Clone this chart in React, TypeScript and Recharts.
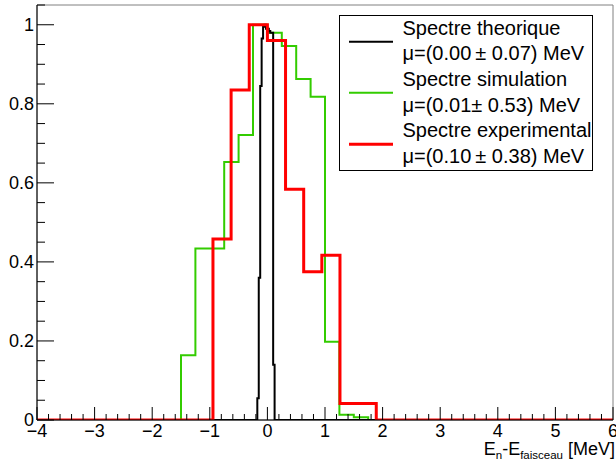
import React from "react";
import { ComposedChart, Line, XAxis, YAxis, ReferenceArea, Legend } from "recharts";

// ---- Data (bin edges and bin contents) ----
const theoEdges = [-0.175, -0.15, -0.125, -0.1, -0.075, -0.05, -0.025, 0, 0.025, 0.05, 0.075, 0.1, 0.125];
const theoValues = [0.055, 0.36, 0.845, 0.965, 0.995, 1.0, 0.99, 0.99, 0.984, 0.98, 0.98, 0.14];

const simEdges = [-1.5, -1.25, -1.0, -0.75, -0.5, -0.25, 0, 0.25, 0.5, 0.75, 1.0, 1.25, 1.5, 1.75];
const simValues = [0.164, 0.434, 0.434, 0.653, 0.721, 1.0, 0.98, 0.946, 0.863, 0.818, 0.198, 0.013, 0.007];

const expEdges = [-0.945, -0.63, -0.315, 0, 0.315, 0.63, 0.945, 1.26, 1.575, 1.89];
const expValues = [0.458, 0.835, 1.0, 0.96, 0.584, 0.375, 0.417, 0.042, 0.042];

const xMajorTicks = [-4, -3, -2, -1, 0, 1, 2, 3, 4, 5, 6];
const xTickLabels = ["\u22124", "\u22123", "\u22122", "\u22121", "0", "1", "2", "3", "4", "5", "6"];
const yMajorTicks = [0, 0.2, 0.4, 0.6, 0.8, 1];
const yTickLabels = ["0", "0.2", "0.4", "0.6", "0.8", "1"];

const legendNames = ["Spectre theorique", "Spectre simulation", "Spectre experimental"];
const legendMu = ["\u03bc=(0.00\u2009\u00b1 0.07) MeV", "\u03bc=(0.01\u00b1 0.53) MeV", "\u03bc=(0.10\u2009\u00b1 0.38) MeV"];
const legendColors = ["#000000", "#33cc00", "#ff0000"];
const legendWidths = [2, 2, 3];

const X_MIN = -4;
const X_MAX = 6;
const Y_MAX = 1.05;

// minor tick positions
const xTicks: number[] = [];
for (let i = 0; i <= 50; i++) xTicks.push(Math.round((X_MIN + i * 0.2) * 10) / 10);
const yTicks: number[] = [];
for (let i = 0; i <= 21; i++) yTicks.push(Math.round(i * 0.05 * 100) / 100);

function toSteps(edges: number[], values: number[]) {
  const pts: { x: number; y: number }[] = [{ x: X_MIN, y: 0 }];
  values.forEach((v, i) => pts.push({ x: edges[i], y: v }));
  pts.push({ x: edges[edges.length - 1], y: 0 });
  pts.push({ x: X_MAX, y: 0 });
  return pts;
}

const theoData = toSteps(theoEdges, theoValues);
const simData = toSteps(simEdges, simValues);
const expData = toSteps(expEdges, expValues);

const FONT = "'Liberation Sans', Arial, Helvetica, sans-serif";

const YTick = (props: any) => {
  const { x, y, payload } = props;
  const v = payload.value;
  const idx = yMajorTicks.findIndex((m) => Math.abs(m - v) < 1e-6);
  const ax = x + 3;
  const len = idx >= 0 ? 17 : 8;
  return (
    <g>
      <line x1={ax} x2={ax + len} y1={y} y2={y} stroke="#000" strokeWidth={1} />
      {idx >= 0 && (
        <text x={x} y={y} dy="0.36em" textAnchor="end" fontSize={18} fontFamily={FONT} fill="#000">
          {yTickLabels[idx]}
        </text>
      )}
    </g>
  );
};

const XTick = (props: any) => {
  const { x, y, payload } = props;
  const v = payload.value;
  const idx = xMajorTicks.findIndex((m) => Math.abs(m - v) < 1e-6);
  const len = idx >= 0 ? 13 : 6;
  return (
    <g>
      <line x1={x} x2={x} y1={y} y2={y - len} stroke="#000" strokeWidth={1} />
      {idx >= 0 && (
        <text x={x} y={y + 16.5} textAnchor="middle" fontSize={18} fontFamily={FONT} fill="#000">
          {xTickLabels[idx]}
        </text>
      )}
    </g>
  );
};

const AxisTitle = (props: any) => {
  const vb = props.viewBox || { x: 37, y: 420, width: 576, height: 41 };
  return (
    <text x={vb.x + vb.width + 2} y={vb.y + 35} textAnchor="end" fontSize={18} fontFamily={FONT} fill="#000">
      <tspan>E</tspan>
      <tspan fontSize={11.5} dy={4}>n</tspan>
      <tspan dy={-4}>-E</tspan>
      <tspan fontSize={11.5} dy={4}>faisceau</tspan>
      <tspan dy={-4}> [MeV]</tspan>
    </text>
  );
};

const LegendBox = () => {
  const lineY = [26.7, 77.7, 129.3];
  const baseY = [19.5, 45, 71, 96.5, 122, 147.5];
  return (
    <svg width={254} height={157} style={{ display: "block" }}>
      <rect x={0.5} y={0.5} width={253} height={155} fill="#fff" stroke="#000" strokeWidth={1} />
      {legendNames.map((n, i) => (
        <g key={n}>
          <line x1={10} x2={54} y1={lineY[i]} y2={lineY[i]} stroke={legendColors[i]} strokeWidth={legendWidths[i]} />
          <text x={63.5} y={baseY[2 * i]} fontSize={20} fontFamily={FONT} fill="#000">
            {n}
          </text>
          <text x={63.5} y={baseY[2 * i + 1]} fontSize={20} fontFamily={FONT} fill="#000">
            {legendMu[i]}
          </text>
        </g>
      ))}
    </svg>
  );
};

export default function App() {
  return (
    <div style={{ position: "absolute", left: 0, top: 0, width: 616, height: 461, background: "#fff", fontFamily: FONT }}>
      <ComposedChart width={616} height={461} margin={{ top: 5, right: 3, bottom: 0, left: 0 }}>
        <XAxis
          type="number"
          dataKey="x"
          domain={[X_MIN, X_MAX]}
          allowDataOverflow
          ticks={xTicks}
          interval={0}
          tickSize={0}
          tickMargin={0}
          tickLine={false}
          tick={<XTick />}
          axisLine={{ stroke: "#000", strokeWidth: 1 }}
          height={41}
          label={<AxisTitle />}
        />
        <YAxis
          type="number"
          domain={[0, Y_MAX]}
          allowDataOverflow
          ticks={yTicks}
          interval={0}
          tickSize={0}
          tickMargin={3}
          tickLine={false}
          tick={<YTick />}
          axisLine={{ stroke: "#000", strokeWidth: 1 }}
          width={37}
        />
        <ReferenceArea x1={X_MIN} x2={X_MAX} y1={0} y2={Y_MAX} fill="none" stroke="#808080" strokeWidth={1} ifOverflow="visible" />
        <Line data={simData} dataKey="y" type="stepAfter" stroke="#33cc00" strokeWidth={2} dot={false} activeDot={false} isAnimationActive={false} />
        <Line data={theoData} dataKey="y" type="stepAfter" stroke="#000000" strokeWidth={2} dot={false} activeDot={false} isAnimationActive={false} />
        <Line data={expData} dataKey="y" type="stepAfter" stroke="#ff0000" strokeWidth={3} dot={false} activeDot={false} isAnimationActive={false} />
        <Legend
          layout="horizontal"
          align="center"
          verticalAlign="middle"
          content={() => <LegendBox />}
          wrapperStyle={{ position: "absolute", left: 339, top: 15, width: 254, height: 157, margin: 0, padding: 0 }}
        />
      </ComposedChart>
    </div>
  );
}
